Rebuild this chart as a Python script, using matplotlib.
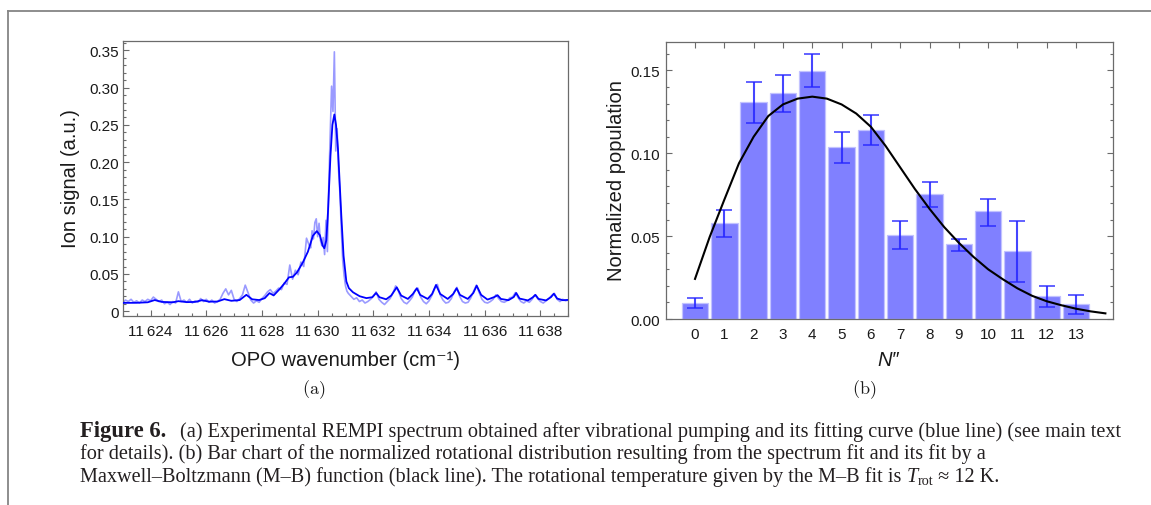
import numpy as np
import matplotlib
matplotlib.use("Agg")
import matplotlib.pyplot as plt
from matplotlib.lines import Line2D
from matplotlib.ticker import MultipleLocator, FixedLocator

# ---------------- data: panel (a) REMPI spectrum ----------------
raw_wn = [11623.0, 11623.1, 11623.2, 11623.3, 11623.4, 11623.5, 11623.6, 11623.7, 11623.8, 11623.9,
          11624.0, 11624.1, 11624.2, 11624.3, 11624.4, 11624.5, 11624.6, 11624.7, 11624.8, 11624.9,
          11625.0, 11625.1, 11625.2, 11625.3, 11625.4, 11625.5, 11625.6, 11625.7, 11625.8, 11625.9,
          11626.0, 11626.1, 11626.2, 11626.3, 11626.4, 11626.5, 11626.6, 11626.7, 11626.8, 11626.9,
          11627.0, 11627.1, 11627.2, 11627.3, 11627.4, 11627.5, 11627.6, 11627.7, 11627.8, 11627.9,
          11628.0, 11628.1, 11628.2, 11628.3, 11628.4, 11628.5, 11628.6, 11628.7, 11628.8, 11628.9,
          11629.0, 11629.1, 11629.2, 11629.3, 11629.4, 11629.5, 11629.6, 11629.7,
          11629.75, 11629.8, 11629.85, 11629.9, 11629.95, 11630.0, 11630.05, 11630.1, 11630.15,
          11630.2, 11630.25, 11630.3, 11630.35, 11630.4, 11630.45, 11630.5, 11630.55, 11630.6,
          11630.65, 11630.7, 11630.75, 11630.8, 11630.85, 11630.9, 11630.95, 11631.0, 11631.05, 11631.1,
          11631.2, 11631.3, 11631.4, 11631.5, 11631.6, 11631.7, 11631.8, 11631.9,
          11632.0, 11632.1, 11632.2, 11632.3, 11632.4, 11632.5, 11632.6, 11632.7, 11632.8, 11632.9,
          11633.0, 11633.1, 11633.2, 11633.3, 11633.4, 11633.5, 11633.6, 11633.7, 11633.8, 11633.9,
          11634.0, 11634.1, 11634.2, 11634.3, 11634.4, 11634.5, 11634.6, 11634.7, 11634.8, 11634.9,
          11635.0, 11635.1, 11635.2, 11635.3, 11635.4, 11635.5, 11635.6, 11635.7, 11635.8, 11635.9,
          11636.0, 11636.1, 11636.2, 11636.3, 11636.4, 11636.5, 11636.6, 11636.7, 11636.8, 11636.9,
          11637.0, 11637.1, 11637.2, 11637.3, 11637.4, 11637.5, 11637.6, 11637.7, 11637.8, 11637.9,
          11638.0, 11638.1, 11638.2, 11638.3, 11638.4, 11638.5, 11638.6, 11638.7, 11638.8, 11638.9,
          11639.0]
raw_signal = [0.011, 0.015, 0.013, 0.016, 0.012, 0.014, 0.011, 0.015, 0.013, 0.016,
              0.014, 0.019, 0.016, 0.013, 0.015, 0.010, 0.012, 0.009, 0.013, 0.011,
              0.026, 0.013, 0.015, 0.012, 0.016, 0.011, 0.014, 0.012, 0.017, 0.013,
              0.016, 0.012, 0.015, 0.011, 0.013, 0.016, 0.024, 0.030, 0.022, 0.028,
              0.016, 0.013, 0.017, 0.022, 0.035, 0.025, 0.015, 0.011, 0.014, 0.012,
              0.017, 0.021, 0.026, 0.029, 0.024, 0.027, 0.031, 0.029, 0.038, 0.036,
              0.062, 0.043, 0.055, 0.049, 0.066, 0.060, 0.098, 0.088,
              0.085, 0.108, 0.097, 0.119, 0.124, 0.100, 0.118, 0.095, 0.088,
              0.099, 0.076, 0.122, 0.080, 0.170, 0.235, 0.302, 0.268, 0.348,
              0.215, 0.245, 0.190, 0.158, 0.110, 0.068, 0.048, 0.034, 0.027, 0.024,
              0.020, 0.016, 0.018, 0.013, 0.015, 0.011, 0.013, 0.016,
              0.020, 0.026, 0.016, 0.012, 0.009, 0.013, 0.017, 0.024, 0.034, 0.027,
              0.017, 0.012, 0.010, 0.014, 0.019, 0.028, 0.031, 0.019, 0.013, 0.010,
              0.014, 0.021, 0.030, 0.036, 0.022, 0.015, 0.011, 0.012, 0.017, 0.026,
              0.032, 0.020, 0.013, 0.011, 0.012, 0.018, 0.027, 0.035, 0.025, 0.016,
              0.012, 0.011, 0.013, 0.016, 0.022, 0.017, 0.013, 0.012, 0.014, 0.018,
              0.019, 0.025, 0.018, 0.013, 0.011, 0.014, 0.012, 0.016, 0.022, 0.017,
              0.013, 0.011, 0.014, 0.017, 0.021, 0.024, 0.016, 0.013, 0.016, 0.014,
              0.015]

fit_wn = [11623.0, 11623.5, 11623.9, 11624.15, 11624.4, 11624.8, 11625.0, 11625.3, 11625.6,
          11625.85, 11626.1, 11626.4, 11626.65, 11626.9, 11627.2, 11627.44, 11627.65, 11627.9,
          11628.1, 11628.27, 11628.42, 11628.64, 11628.8, 11628.97, 11629.11, 11629.26, 11629.47,
          11629.65, 11629.83, 11629.97, 11630.08, 11630.18, 11630.24, 11630.31, 11630.37, 11630.46,
          11630.53, 11630.6, 11630.66, 11630.73, 11630.85, 11630.93, 11631.03, 11631.12, 11631.27,
          11631.51, 11631.75, 11631.96, 11632.1, 11632.22, 11632.46, 11632.64, 11632.84, 11633.0,
          11633.24, 11633.42, 11633.56, 11633.68, 11633.95, 11634.11, 11634.25, 11634.4, 11634.67,
          11634.87, 11634.99, 11635.11, 11635.39, 11635.59, 11635.71, 11635.87, 11636.1, 11636.34,
          11636.46, 11636.58, 11636.85, 11637.04, 11637.13, 11637.25, 11637.55, 11637.72, 11637.82,
          11637.93, 11638.2, 11638.38, 11638.48, 11638.6, 11638.8, 11639.0]
fit_signal = [0.0112, 0.0113, 0.0120, 0.0150, 0.0125, 0.0120, 0.0135, 0.0122, 0.0125,
              0.0148, 0.0128, 0.0130, 0.0162, 0.0140, 0.0150, 0.0220, 0.0160, 0.0150,
              0.0175, 0.0243, 0.0212, 0.0299, 0.0370, 0.0455, 0.0462, 0.0522, 0.0656,
              0.0799, 0.1013, 0.1075, 0.1020, 0.0880, 0.0845, 0.0950, 0.1327, 0.2086,
              0.2500, 0.2640, 0.2500, 0.2176, 0.1280, 0.0745, 0.0400, 0.0310, 0.0254,
              0.0201, 0.0176, 0.0188, 0.0245, 0.0188, 0.0160, 0.0210, 0.0321, 0.0210,
              0.0165, 0.0232, 0.0308, 0.0219, 0.0165, 0.0232, 0.0353, 0.0232, 0.0165,
              0.0232, 0.0308, 0.0219, 0.0165, 0.0245, 0.0343, 0.0219, 0.0156, 0.0190,
              0.0215, 0.0165, 0.0148, 0.0190, 0.0245, 0.0170, 0.0145, 0.0185, 0.0220,
              0.0165, 0.0145, 0.0190, 0.0235, 0.0170, 0.0148, 0.0152]

wn_ticks = [11624, 11626, 11628, 11630, 11632, 11634, 11636, 11638]
wn_ticklabels = ["11\u2009624", "11\u2009626", "11\u2009628", "11\u2009630",
                 "11\u2009632", "11\u2009634", "11\u2009636", "11\u2009638"]
sig_ticks = [0, 0.05, 0.10, 0.15, 0.20, 0.25, 0.30, 0.35]
sig_ticklabels = ["0", "0.05", "0.10", "0.15", "0.20", "0.25", "0.30", "0.35"]

# ---------------- data: panel (b) rotational distribution ----------------
N_levels = [0, 1, 2, 3, 4, 5, 6, 7, 8, 9, 10, 11, 12, 13]
population = [0.0097, 0.0580, 0.1307, 0.1362, 0.1497, 0.1039, 0.1143, 0.0507, 0.0753,
              0.0453, 0.0650, 0.0411, 0.0141, 0.0090]
pop_upper = [0.0126, 0.0658, 0.1430, 0.1470, 0.1600, 0.1131, 0.1233, 0.0590, 0.0829,
             0.0485, 0.0726, 0.0591, 0.0202, 0.0147]
pop_lower = [0.0069, 0.0497, 0.1182, 0.1250, 0.1398, 0.0943, 0.1049, 0.0421, 0.0675,
             0.0412, 0.0561, 0.0225, 0.0070, 0.0029]

# Maxwell-Boltzmann fit curve, every 0.5 in N
mb_N = [0.0, 0.5, 1.0, 1.5, 2.0, 2.5, 3.0, 3.5, 4.0, 4.5, 5.0, 5.5, 6.0, 6.5, 7.0,
        7.5, 8.0, 8.5, 9.0, 9.5, 10.0, 10.5, 11.0, 11.5, 12.0, 12.5, 13.0, 13.5, 14.0]
mb_pop = [0.0242, 0.0495, 0.0720, 0.0940, 0.1100, 0.1225, 0.1295, 0.1330, 0.1342, 0.1330,
          0.1295, 0.1240, 0.1160, 0.1045, 0.0915, 0.0785, 0.0665, 0.0555, 0.0460, 0.0375,
          0.0300, 0.0240, 0.0185, 0.0140, 0.0107, 0.0083, 0.0062, 0.0046, 0.0034]

pop_ticks = [0.0, 0.05, 0.10, 0.15]
pop_ticklabels = ["0.00", "0.05", "0.10", "0.15"]

caption_lines = [
    "(a) Experimental REMPI spectrum obtained after vibrational pumping and its fitting curve (blue line) (see main text",
    "for details). (b) Bar chart of the normalized rotational distribution resulting from the spectrum fit and its fit by a",
    "Maxwell\u2013Boltzmann (M\u2013B) function (black line). The rotational temperature given by the M\u2013B fit is ",
]

# ---------------- figure ----------------
plt.rcParams['mathtext.fontset'] = 'cm'
SANS = ['Liberation Sans', 'DejaVu Sans']
SERIF = ['Liberation Serif', 'DejaVu Serif']
FRAME = '#6b6b6b'
TXT = '#1a1a1a'

W, H = 1151, 506
fig = plt.figure(figsize=(W / 100, H / 100), dpi=100)


def fx(px):
    return px / W


def fy(py):
    return 1 - py / H


# outer figure frame (left and top lines)
fig.add_artist(Line2D([fx(8.4), fx(8.4)], [fy(12.3), 0.0], color='#858585', lw=1.3))
fig.add_artist(Line2D([fx(8.4), 1.0], [fy(12.3), fy(12.3)], color='#858585', lw=1.3))

# ---- panel (a)
ax1 = fig.add_axes([fx(122.7), fy(316.7), (568.3 - 122.7) / W, (316.7 - 41.7) / H])
ax1.plot(raw_wn, raw_signal, color='#9a9aff', lw=1.2, zorder=2)
ax1.plot(fit_wn, fit_signal, color='#0000ff', lw=1.3, zorder=3)
ax1.set_xlim(11623, 11639)
ax1.set_ylim(-0.006, 0.363)
ax1.xaxis.set_major_locator(FixedLocator(wn_ticks))
ax1.set_xticklabels(wn_ticklabels)
ax1.xaxis.set_minor_locator(MultipleLocator(0.5))
ax1.yaxis.set_major_locator(FixedLocator(sig_ticks))
ax1.set_yticklabels(sig_ticklabels)
ax1.yaxis.set_minor_locator(MultipleLocator(0.01))
ax1.tick_params(which='both', direction='in', top=False, right=False, color=FRAME,
                labelcolor=TXT, labelsize=11, width=0.8)
ax1.tick_params(which='major', length=4.5)
ax1.tick_params(which='minor', length=2.5)
ax1.tick_params(axis='x', pad=6)
ax1.tick_params(axis='y', pad=3)
for s in ax1.spines.values():
    s.set_color(FRAME)
    s.set_linewidth(0.9)
for lab in ax1.get_xticklabels() + ax1.get_yticklabels():
    lab.set_family(SANS)

# ---- panel (b)
ax2 = fig.add_axes([fx(665.7), fy(320), (1113 - 665.7) / W, (320 - 43.3) / H])
pop = np.array(population)
ax2.bar(N_levels, pop, width=0.9, color='#8080ff', edgecolor='#c2c2ff', linewidth=0.9, zorder=2)
eb = ax2.errorbar(N_levels, pop, yerr=[pop - np.array(pop_lower), np.array(pop_upper) - pop],
                  fmt='none', ecolor='#2626ff', elinewidth=1.5, capsize=5.5, capthick=1.2,
                  zorder=3, alpha=0.85)
for cl in eb[1]:
    cl.set_color('#7a7aff')
ax2.plot(mb_N, mb_pop, color='black', lw=1.5, zorder=4, solid_joinstyle='round')
ax2.set_xlim(-1.0, 14.26)
ax2.set_ylim(0, 0.167)
ax2.xaxis.set_major_locator(FixedLocator(N_levels))
ax2.set_xticklabels([str(n) for n in N_levels])
ax2.yaxis.set_major_locator(FixedLocator(pop_ticks))
ax2.set_yticklabels(pop_ticklabels)
ax2.yaxis.set_minor_locator(MultipleLocator(0.01))
ax2.tick_params(which='both', direction='in', top=True, right=True, color=FRAME,
                labelcolor=TXT, labelsize=11, width=0.8)
ax2.tick_params(which='major', length=4.5)
ax2.tick_params(which='minor', length=2.5)
ax2.tick_params(axis='x', pad=6)
ax2.tick_params(axis='y', pad=4)
for s in ax2.spines.values():
    s.set_color(FRAME)
    s.set_linewidth(0.9)
for lab in ax2.get_xticklabels() + ax2.get_yticklabels():
    lab.set_family(SANS)

# ---- axis labels
fig.text(fx(345.5), fy(360), "OPO wavenumber (cm\u207b\u00b9)", ha='center', va='center',
         fontsize=14.5, family=SANS, color=TXT)
fig.text(fx(71), fy(179), "Ion signal (a.u.)", ha='center', va='center', rotation=90,
         fontsize=14.5, family=SANS, color=TXT)
fig.text(fx(888), fy(360), "N\u2033", ha='center', va='center', fontsize=14.5,
         family=SANS, style='italic', color=TXT)
fig.text(fx(616.5), fy(181), "Normalized population", ha='center', va='center', rotation=90,
         fontsize=14.5, family=SANS, color=TXT)

# ---- panel tags
fig.text(fx(314), fy(390), r"$\mathrm{(a)}$", ha='center', va='center', fontsize=13, color=TXT)
fig.text(fx(864), fy(390), r"$\mathrm{(b)}$", ha='center', va='center', fontsize=13, color=TXT)

# ---- caption
renderer = fig.canvas.get_renderer()
CAP = '#231f20'


def run_width(txt, size, **kw):
    t1 = fig.text(0, 0, txt + "|", fontsize=size, **kw)
    t2 = fig.text(0, 0, "|", fontsize=size, **kw)
    w = t1.get_window_extent(renderer).width - t2.get_window_extent(renderer).width
    t1.remove()
    t2.remove()
    return w


x0 = 80.0
x_end = 1119.0      # where line 1 ends
gap_px = 14.0
BOLD_SCALE = 1.12
size = 12.0
for _ in range(4):
    wb = run_width("Figure 6.", size * BOLD_SCALE, family=SERIF, weight='bold')
    w_l1 = run_width(caption_lines[0], size, family=SERIF)
    size = size * (x_end - x0 - wb - gap_px) / w_l1
wb = run_width("Figure 6.", size * BOLD_SCALE, family=SERIF, weight='bold')
x_rest = x0 + wb + gap_px

fig.text(fx(x0), fy(437), "Figure 6.", fontsize=size * BOLD_SCALE, family=SERIF, weight='bold',
         color=CAP, va='baseline', ha='left')
fig.text(fx(x_rest), fy(437), caption_lines[0], fontsize=size, family=SERIF,
         color=CAP, va='baseline', ha='left')
fig.text(fx(x0), fy(459.5), caption_lines[1], fontsize=size, family=SERIF,
         color=CAP, va='baseline', ha='left')
# line 3 with T_rot
x = x0
runs = [(caption_lines[2], dict(family=SERIF), 0, size),
        ("T", dict(family=SERIF, style='italic'), 0, size),
        ("rot", dict(family=SERIF), 3, size * 0.7),
        (" \u2248 12 K.", dict(family=SERIF), 0, size)]
for txt, kw, dy, sz in runs:
    fig.text(fx(x), fy(482 + dy), txt, fontsize=sz, color=CAP, va='baseline', ha='left', **kw)
    x += run_width(txt, sz, **kw)

fig.savefig("out.png", dpi=100)
